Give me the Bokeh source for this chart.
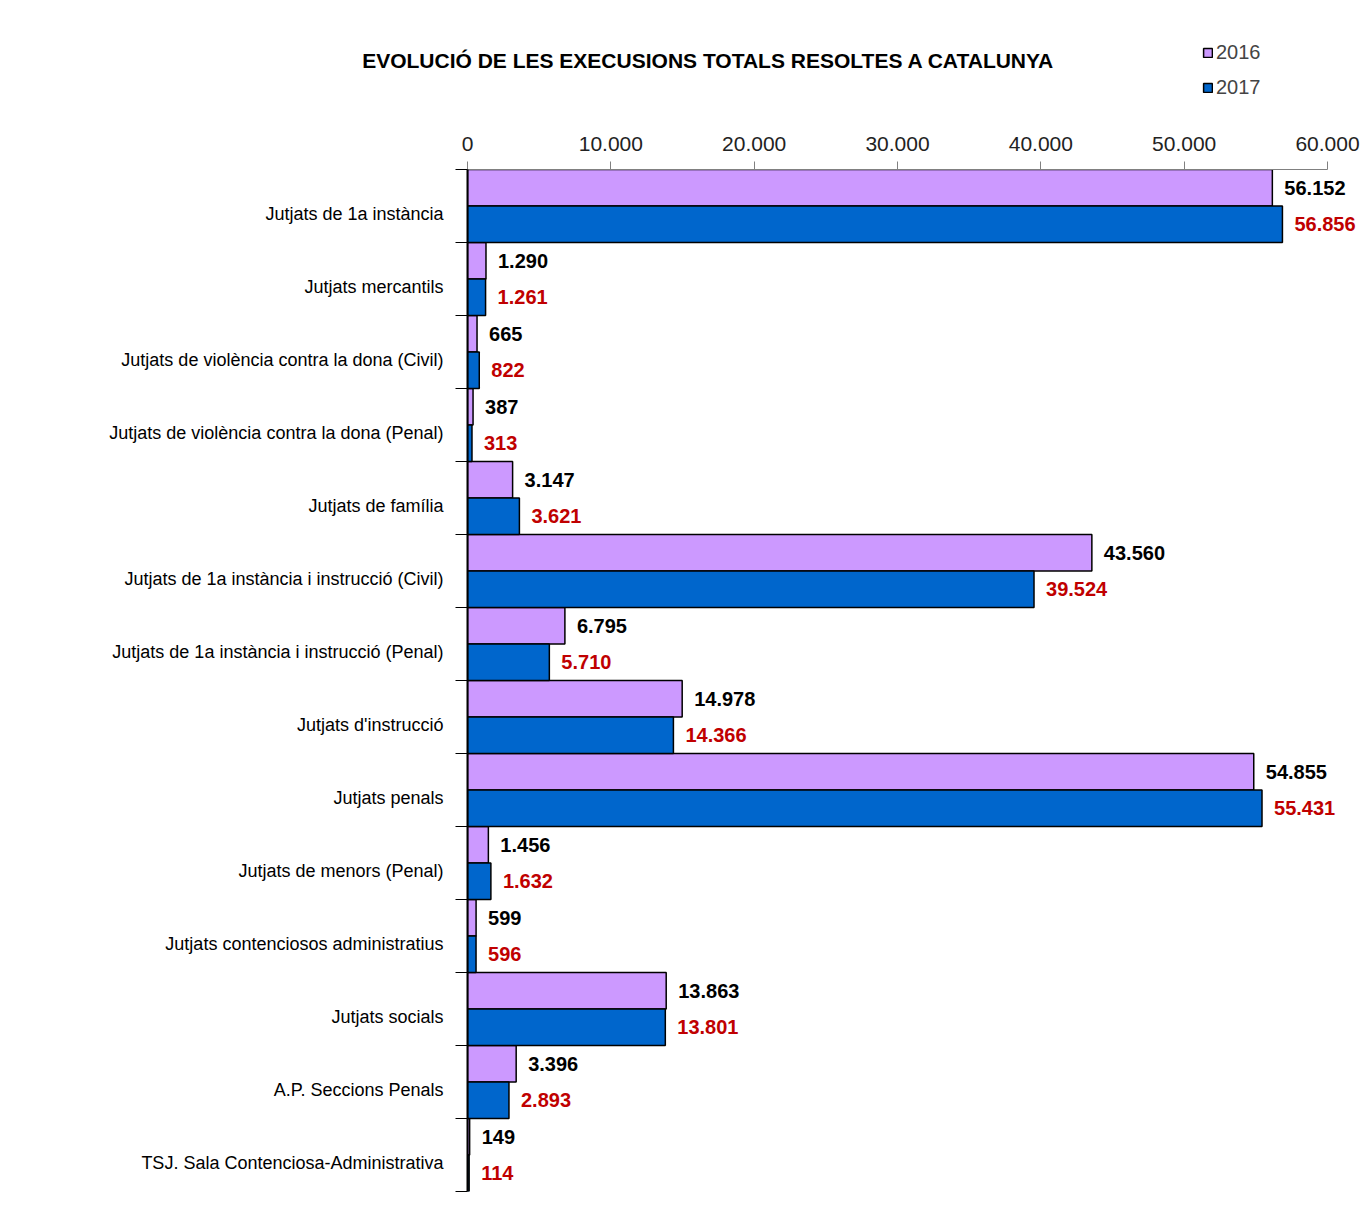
from bokeh.plotting import figure
from bokeh.layouts import column
from bokeh.models import ColumnDataSource, Range1d, FixedTicker, Label, Legend, LegendItem
from bokeh.embed import file_html
from bokeh.resources import INLINE
from bokeh.core.properties import value
import numpy as np

title_text = "EVOLUCIÓ DE LES EXECUSIONS TOTALS RESOLTES A CATALUNYA"

categories = [
    "Jutjats de 1a instància",
    "Jutjats mercantils",
    "Jutjats de violència contra la dona (Civil)",
    "Jutjats de violència contra la dona (Penal)",
    "Jutjats de família",
    "Jutjats de 1a instància i instrucció (Civil)",
    "Jutjats de 1a instància i instrucció (Penal)",
    "Jutjats d'instrucció",
    "Jutjats penals",
    "Jutjats de menors (Penal)",
    "Jutjats contenciosos administratius",
    "Jutjats socials",
    "A.P. Seccions Penals",
    "TSJ. Sala Contenciosa-Administrativa",
]

series_names = ["2016", "2017"]
values_2016 = [56152, 1290, 665, 387, 3147, 43560, 6795, 14978, 54855, 1456, 599, 13863, 3396, 149]
values_2017 = [56856, 1261, 822, 313, 3621, 39524, 5710, 14366, 55431, 1632, 596, 13801, 2893, 114]

x_ticks = [0, 10000, 20000, 30000, 40000, 50000, 60000]
x_tick_labels = ["0", "10.000", "20.000", "30.000", "40.000", "50.000", "60.000"]

FONT = "Liberation Sans"
C2016 = "#CC99FF"
C2017 = "#0066CC"
RED = "#C00000"


def fmt(v):
    return f"{v:,}".replace(",", ".")


n = len(categories)
idx = np.arange(n)
src16 = ColumnDataSource(dict(y=idx + 0.25, x=values_2016, label=[fmt(v) for v in values_2016]))
src17 = ColumnDataSource(dict(y=idx + 0.75, x=values_2017, label=[fmt(v) for v in values_2017]))

TOTAL_W = 1360
HEAD_H = 125
frame_w, frame_h = 893, 1022
x_end = x_ticks[-1] * frame_w / 860.0

# ---------------- main chart ----------------
p = figure(
    frame_width=frame_w, frame_height=frame_h,
    x_range=Range1d(0, x_end), y_range=Range1d(n, 0),
    x_axis_location="above",
    output_backend="svg", toolbar_location=None,
    min_border_left=TOTAL_W - frame_w, min_border_right=0,
    min_border_top=44, min_border_bottom=28,
)
p.outline_line_color = None
p.xgrid.grid_line_color = None
p.ygrid.grid_line_color = None

bar_style = dict(line_color="black", line_width=1.5)
r16 = p.hbar(y="y", right="x", left=0, height=0.5, source=src16, fill_color=C2016, **bar_style)
r17 = p.hbar(y="y", right="x", left=0, height=0.5, source=src17, fill_color=C2017, **bar_style)

lab_style = dict(x_offset=12, text_baseline="middle", text_align="left",
                 text_font=value(FONT), text_font_style="bold", text_font_size="20px")
p.text(x="x", y="y", text="label", source=src16, text_color="black", **lab_style)
p.text(x="x", y="y", text="label", source=src17, text_color=RED, **lab_style)

# x axis (top)
xa = p.xaxis[0]
xa.ticker = FixedTicker(ticks=x_ticks)
xa.major_label_overrides = {t: l for t, l in zip(x_ticks, x_tick_labels)}
xa.bounds = (x_ticks[0], x_ticks[-1])
xa.axis_line_color = "#808080"
xa.axis_line_width = 1
xa.major_tick_line_color = "#808080"
xa.major_tick_out = 8
xa.major_tick_in = 0
xa.minor_tick_line_color = None
xa.major_label_text_font = FONT
xa.major_label_text_font_size = "21px"
xa.major_label_text_color = "#222222"
xa.major_label_standoff = 11

# y axis (left): ticks at category boundaries, labels slightly below band centres
ya = p.yaxis[0]
label_pos = [float(i) + 0.5 + 0.11 for i in idx]
ya.ticker = FixedTicker(ticks=label_pos, minor_ticks=[float(i) for i in range(n + 1)])
ya.major_label_overrides = {c: cat for c, cat in zip(label_pos, categories)}
ya.major_tick_line_color = None
ya.major_tick_out = 0
ya.major_tick_in = 0
ya.minor_tick_line_color = "black"
ya.minor_tick_out = 12
ya.minor_tick_in = 0
ya.minor_tick_line_width = 1
ya.axis_line_color = "black"
ya.axis_line_width = 2
ya.major_label_text_font = FONT
ya.major_label_text_font_size = "18px"
ya.major_label_text_color = "black"
ya.major_label_standoff = 12

# ---------------- header (title + legend) ----------------
h = figure(
    width=TOTAL_W, height=HEAD_H,
    x_range=Range1d(0, TOTAL_W), y_range=Range1d(HEAD_H, 0),
    x_axis_type=None, y_axis_type=None,
    output_backend="svg", toolbar_location=None,
    min_border=0,
)
h.frame_align = False
h.outline_line_color = None
h.xgrid.grid_line_color = None
h.ygrid.grid_line_color = None

h.add_layout(Label(x=708, y=60, text=title_text,
                   text_align="center", text_baseline="middle", text_font=FONT,
                   text_font_style="bold", text_font_size="21px", text_color="black"))

k16 = h.hbar(y="y", right="x", left=0, height=0.5, source=src16, fill_color=C2016, visible=False, **bar_style)
k17 = h.hbar(y="y", right="x", left=0, height=0.5, source=src17, fill_color=C2017, visible=False, **bar_style)

legend = Legend(
    items=[LegendItem(label=series_names[0], renderers=[k16]),
           LegendItem(label=series_names[1], renderers=[k17])],
    location=(1202, 26), orientation="vertical",
    glyph_width=11, glyph_height=11, label_standoff=3, spacing=12,
    label_text_font=FONT, label_text_font_size="20px", label_height=22,
    padding=0, margin=0, border_line_color=None, background_fill_alpha=0,
    inactive_fill_alpha=0,
)
h.add_layout(legend, "center")

layout = column(h, p, spacing=0)
open("out.html", "w").write(file_html(layout, INLINE))
